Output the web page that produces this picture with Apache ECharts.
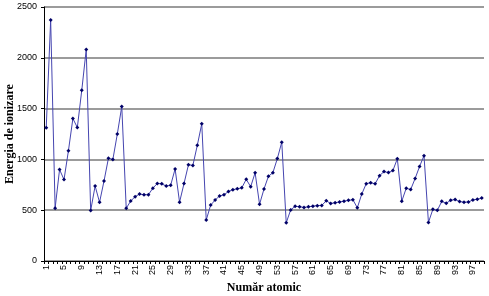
<!DOCTYPE html>
<html>
<head>
<meta charset="utf-8">
<script src="https://cdn.jsdelivr.net/npm/echarts@6/dist/echarts.min.js"></script>
<style>html,body{margin:0;padding:0;background:#fff}#c{width:489px;height:296px}</style>
</head>
<body>
<div id="c"></div>
<script>
const atomicNumbers = [];
for (let i = 1; i <= 99; i++) atomicNumbers.push(String(i));
const ionizationEnergy = [
  1312, 2372, 520, 900, 801, 1086, 1402, 1314, 1681, 2081,
  496, 738, 578, 787, 1012, 1000, 1251, 1521, 519, 590,
  633, 659, 651, 653, 717, 763, 760, 737, 746, 906,
  579, 762, 947, 941, 1140, 1351, 403, 550, 600, 640,
  652, 684, 702, 710, 720, 804, 731, 868, 558, 709,
  834, 869, 1008, 1170, 376, 503, 538, 534, 527, 533,
  540, 545, 547, 593, 566, 573, 581, 589, 597, 603,
  524, 659, 761, 770, 760, 840, 880, 870, 890, 1007,
  589, 716, 703, 812, 930, 1037, 380, 509, 499, 587,
  568, 598, 605, 585, 578, 581, 601, 608, 619
];
const yTicks = { min: 0, max: 2500, interval: 500 };

const chart = echarts.init(document.getElementById('c'), null, { renderer: 'canvas' });
chart.setOption({
  animation: false,
  backgroundColor: '#ffffff',
  grid: { left: 44, right: 5, top: 7, bottom: 35, containLabel: false, outerBoundsMode: 'none' },
  xAxis: {
    type: 'category',
    data: atomicNumbers,
    boundaryGap: true,
    name: 'Număr atomic',
    nameLocation: 'middle',
    nameGap: 21,
    nameMoveOverlap: false,
    nameTextStyle: { fontFamily: 'Liberation Serif', fontWeight: 'bold', fontSize: 12, color: '#000' },
    axisLine: { lineStyle: { color: '#000', width: 1 } },
    axisTick: { show: true, interval: 0, length: 3, lineStyle: { color: '#000' } },
    axisLabel: { interval: 3, rotate: 90, fontFamily: 'Liberation Sans', fontSize: 9, color: '#000', margin: 4, hideOverlap: false },
    splitLine: { show: false }
  },
  yAxis: {
    type: 'value',
    min: yTicks.min, max: yTicks.max, interval: yTicks.interval,
    name: 'Energia de ionizare',
    nameLocation: 'middle',
    nameGap: 28,
    nameMoveOverlap: false,
    nameTextStyle: { fontFamily: 'Liberation Serif', fontWeight: 'bold', fontSize: 12, color: '#000' },
    axisLine: { show: true, lineStyle: { color: '#000', width: 1 } },
    axisTick: { show: true, length: 3, lineStyle: { color: '#000' } },
    axisLabel: { fontFamily: 'Liberation Sans', fontSize: 9, color: '#000', margin: 7, formatter: v => String(v) },
    splitLine: { show: true, lineStyle: { color: '#7a7a7a', width: 1.5 } }
  },
  series: [{
    type: 'line',
    data: ionizationEnergy,
    symbol: 'diamond',
    symbolSize: 4,
    showAllSymbol: true,
    lineStyle: { color: '#4545b0', width: 1 },
    itemStyle: { color: '#000066', borderWidth: 0 }
  }]
});
</script>
</body>
</html>
